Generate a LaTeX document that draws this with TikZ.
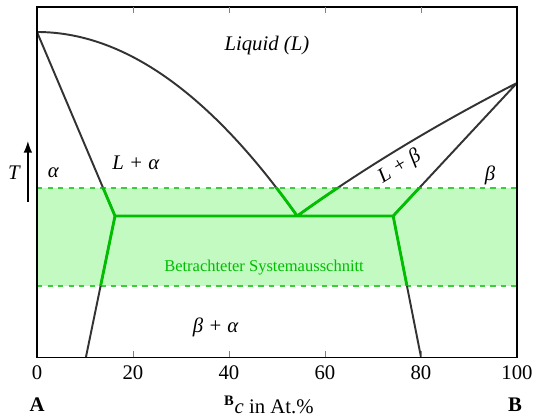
\documentclass[tikz,border=0pt]{standalone}
\usepackage{fontspec}
\setmainfont{Liberation Serif}
\usetikzlibrary{arrows.meta}
\definecolor{bandfill}{RGB}{194,250,194}
\definecolor{bandedge}{RGB}{60,205,60}
\definecolor{bandline}{RGB}{0,190,0}
\definecolor{phaseline}{RGB}{51,51,51}

\begin{document}
\begin{tikzpicture}[x=0.096cm,y=0.07cm,>=Latex,
  every node/.style={font=\fontsize{11.8}{14}\selectfont,inner sep=1pt},
  phase/.style={phaseline,line width=1.1pt},
  cut/.style={bandline,line width=1.6pt}]
  \useasboundingbox (-7.708,-17.14) rectangle (103.96,102);

  % betrachteter Ausschnitt
  \fill[bandfill] (0,20.3) rectangle (100,48.3);
  \draw[bandedge,dashed,thick] (0,48.3) -- (100,48.3) (0,20.3) -- (100,20.3);

  \coordinate (mA) at (0,92.86);
  \coordinate (mB) at (100,78.3);
  \coordinate (eu) at (54.2,40.3);
  \coordinate (kl) at (16.25,40.3);
  \coordinate (kr) at (74.2,40.3);
  \coordinate (sl) at (10.2,0);
  \coordinate (sr) at (80,0);

  \def\phaselines{(mA) .. controls (18.07,92.86) and (36.13,75.34) .. (eu)
    (eu) .. controls (67.93,53.83) and (83.2,66.5) .. (mB)
    (mA) -- (kl) -- (sl) (kl) -- (kr) (mB) -- (kr) -- (sr)}
  \draw[phase] \phaselines;
  \begin{scope}
    \clip (0,20.3) rectangle (100,48.3);
    \draw[cut] \phaselines;
  \end{scope}

  % Rahmen und Achse
  \draw[line width=0.6pt] (0,0) rectangle (100,100);
  \foreach \x in {20,40,60,80} {
    \draw[gray] (\x,0) -- ++(0,1.7);
    \draw[gray] (\x,100) -- ++(0,-1.7);
  }
  \foreach \x in {0,20,...,100}
    \node (t\x) at (\x,-4.6) {\x};

  \coordinate (tlo) at (-1.9,44.3);
  \coordinate (thi) at (-1.9,61.7);
  \draw[->,thick] (tlo) -- (thi);
  \node (T) at (-4.8,52.6) {\itshape T};

  \node (liq) at (47.9,88.9) {\itshape Liquid (L)};
  \node (la) at (20.6,55.4) {\itshape L + α};
  \node (al) at (3.4,52.6) {\itshape α};
  \node[rotate=32] (lb) at (75.6,54.3) {\itshape L + β};
  \node (be) at (94.4,52) {\itshape β};
  \node (ba) at (37.2,8.6) {\itshape β + α};
  \node[bandline,font=\fontsize{9.4}{11}\selectfont] (sys) at (47.3,25.7) {Betrachteter Systemausschnitt};

  \node (A) at (0,-13.7) {\textbf{A}};
  \node (B) at (99.6,-13.7) {\textbf{B}};
  \node (xl) at (48.3,-13.7) {\textsuperscript{\textbf{B}}\textit{c} in At.\%};
\end{tikzpicture}
\end{document}
